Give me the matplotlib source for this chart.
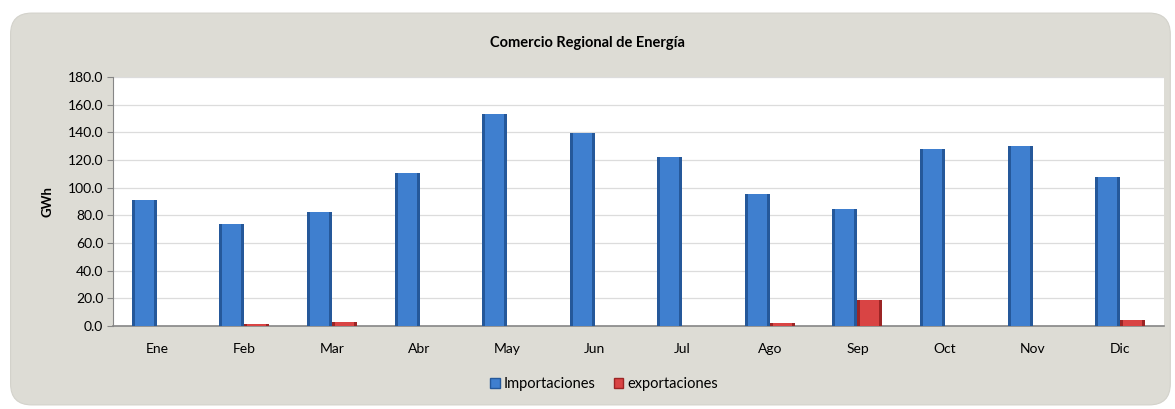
import matplotlib.pyplot as plt
import numpy as np
from matplotlib.patches import FancyBboxPatch

meses = ["Ene", "Feb", "Mar", "Abr", "May", "Jun", "Jul", "Ago", "Sep", "Oct", "Nov", "Dic"]
importaciones = [91.0, 73.7, 82.2, 110.8, 153.1, 139.3, 122.4, 95.2, 84.4, 127.8, 130.1, 108.0]
exportaciones = [0.0, 1.4, 2.9, 0.3, 0.0, 0.3, 0.0, 2.0, 18.8, 0.0, 0.3, 4.3]
yticks = [0, 20, 40, 60, 80, 100, 120, 140, 160, 180]

plt.rcParams['font.family'] = ['Lato', 'DejaVu Sans']

fig = plt.figure(figsize=(11.75, 4.09), dpi=100)
fig.patch.set_facecolor('white')

# fondo gris redondeado del gráfico
fondo = FancyBboxPatch((0.009, 0.010), 0.987, 0.958, boxstyle="round,pad=0,rounding_size=0.018",
                       transform=fig.transFigure, facecolor='#dddcd5', edgecolor='#d3d2cb',
                       linewidth=0.8, mutation_aspect=1175 / 409, zorder=-5)
fig.patches.append(fondo)

ax = fig.add_axes([0.0962, 0.2029, 0.8944, 0.6088])
ax.set_zorder(2)
ax.set_facecolor('white')

x = np.arange(len(meses))
w = 0.285

# barras con aspecto biselado: capa oscura + capa clara interior
ax.bar(x - w / 2, importaciones, w, color='#25589a', zorder=3)
ax.bar(x - w / 2, importaciones, w * 0.76, color='#3f7fcf', zorder=4)
ax.bar(x + w / 2, exportaciones, w, color='#9c2525', zorder=3)
ax.bar(x + w / 2, exportaciones, w * 0.76, color='#d94444', zorder=4)

ax.set_xlim(-0.5, len(meses) - 0.5)
ax.set_ylim(0, 180)
ax.set_yticks(yticks)
ax.set_yticklabels([f"{v:.1f}" for v in yticks], fontsize=10)
ax.set_xticks(x)
ax.set_xticklabels(meses, fontsize=10)
ax.tick_params(axis='x', length=0, pad=12)
ax.tick_params(axis='y', length=4, color='#868686', pad=3)
ax.yaxis.grid(True, color='#dcdcdc', linewidth=0.9, zorder=0)
ax.set_axisbelow(True)
for s in ['top', 'right']:
    ax.spines[s].set_visible(False)
ax.spines['left'].set_color('#868686')
ax.spines['bottom'].set_color('#868686')
ax.spines['bottom'].set_linewidth(1.2)

ax.set_ylabel("GWh", fontsize=9.5, fontweight='bold', labelpad=10)
fig.text(0.5, 0.895, "Comercio Regional de Energía", ha='center', va='center',
         fontsize=10.5, fontweight='bold')

h1 = plt.Rectangle((0, 0), 1, 1, facecolor='#3f7fcf', edgecolor='#25589a')
h2 = plt.Rectangle((0, 0), 1, 1, facecolor='#d94444', edgecolor='#9c2525')
fig.legend([h1, h2], ["Importaciones", "exportaciones"], loc='center', bbox_to_anchor=(0.514, 0.06),
           ncol=2, frameon=False, fontsize=10.5, handlelength=0.65, handleheight=0.65,
           handletextpad=0.25, columnspacing=1.3)

fig.savefig("out.png", dpi=100, facecolor=fig.get_facecolor())
